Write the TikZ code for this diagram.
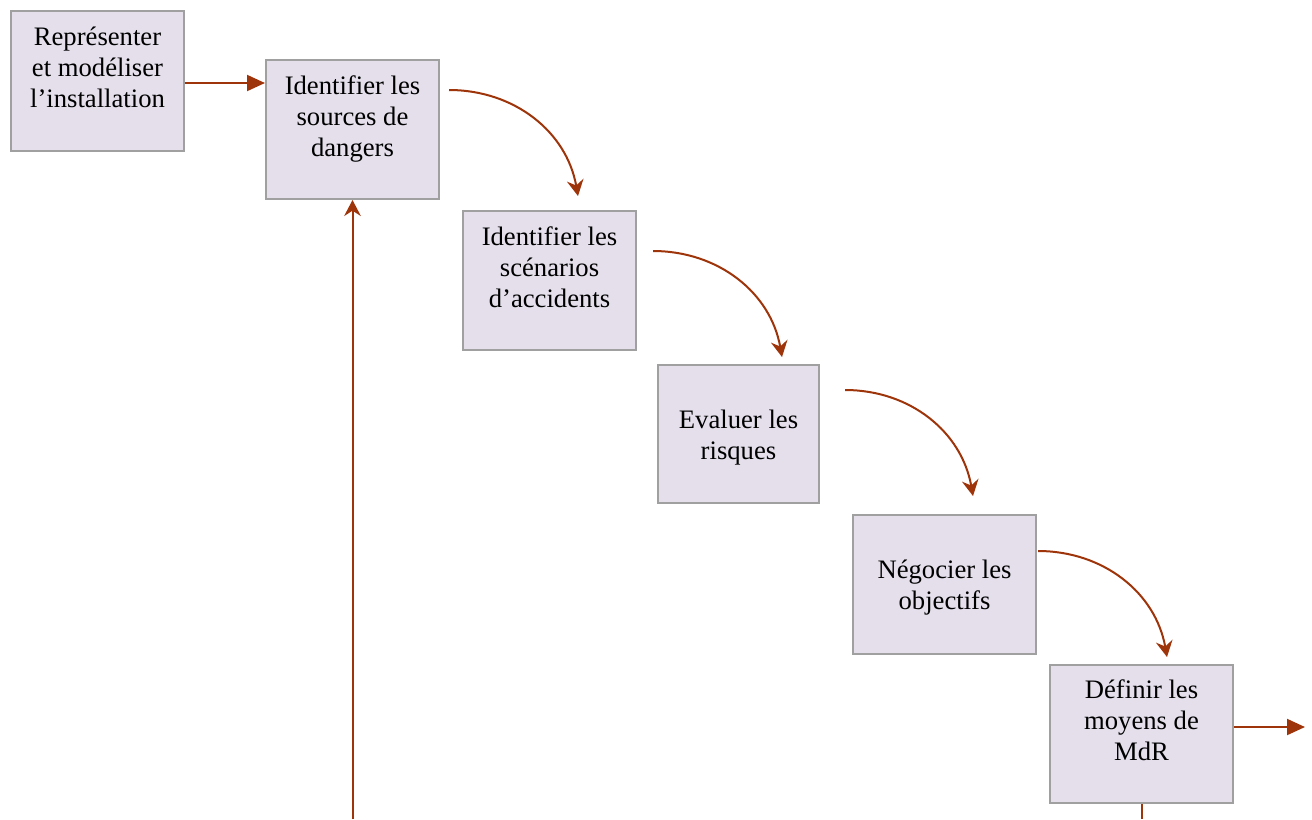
\documentclass[tikz,border=0pt]{standalone}
\usepackage{fontspec}
\setmainfont{Liberation Serif}
\usetikzlibrary{arrows.meta,calc}
\definecolor{boxfill}{RGB}{228,223,235}
\definecolor{boxline}{RGB}{160,160,160}
\definecolor{arr}{RGB}{158,52,10}
\begin{document}
\begin{tikzpicture}[x=0.75pt,y=-0.75pt,
  stepbox/.style={draw=boxline,fill=boxfill,line width=1.5pt,inner sep=0pt},
  steptext/.style={align=center,inner sep=0pt,font=\fontsize{20}{23.25}\selectfont},
  three/.style={steptext,yshift=8.25pt},
  two/.style={steptext,yshift=-2.6pt},
  link/.style={draw=arr,line width=1.5pt},
  tipA/.style={-{Triangle[length=13.5pt,width=12pt]}},
  tipB/.style={-{Stealth[length=12pt,width=12.5pt,inset=4pt]}}]
\useasboundingbox (0,0) rectangle (1312,819);
\node[stepbox,minimum width=129.75pt,minimum height=105pt] (b1) at (97.5,81) {};
\node[stepbox,minimum width=129.75pt,minimum height=104.25pt] (b2) at (352.5,129.5) {};
\node[stepbox,minimum width=129.75pt,minimum height=104.25pt] (b3) at (549.5,280.5) {};
\node[stepbox,minimum width=120.75pt,minimum height=103.5pt] (b4) at (738.5,434) {};
\node[stepbox,minimum width=137.25pt,minimum height=104.25pt] (b5) at (944.5,584.5) {};
\node[stepbox,minimum width=137.25pt,minimum height=103.5pt] (b6) at (1141.5,734) {};
\node[three] (t1) at (b1.center) {Représenter\\et modéliser\\l’installation\vphantom{g}};
\node[three] (t2) at (b2.center) {Identifier les\\sources de\\dangers};
\node[three] (t3) at (b3.center) {Identifier les\\scénarios\\d’accidents\vphantom{g}};
\node[two] (t4) at (b4.center) {Evaluer les\\risques};
\node[two] (t5) at (b5.center) {Négocier les\\objectifs};
\node[three] (t6) at (b6.center) {Définir les\\moyens de\\MdR\vphantom{g}};
\coordinate (a1) at (184,83);
\coordinate (c2s) at (449,90);  \coordinate (c2e) at (578,196);
\coordinate (c3s) at (653,251); \coordinate (c3e) at (782,357);
\coordinate (c4s) at (845,390); \coordinate (c4e) at (973,496);
\coordinate (c5s) at (1038,551); \coordinate (c5e) at (1167,657);
\coordinate (o6) at (1305,727);
\coordinate (d6) at (1141.5,819);
\coordinate (u2) at (352.5,819);
\draw[link,tipA] (b1.east |- a1) -- (b2.west |- a1);
\draw[link,tipB] (c2s) to[out=0,in=100] (c2e);
\draw[link,tipB] (c3s) to[out=0,in=100] (c3e);
\draw[link,tipB] (c4s) to[out=0,in=100] (c4e);
\draw[link,tipB] (c5s) to[out=0,in=100] (c5e);
\draw[link,tipA] (b6.east |- o6) -- (o6);
\draw[link,tipB] (u2) -- (b2.south);
\draw[link] (b6.south) -- (d6);
\end{tikzpicture}
\end{document}
